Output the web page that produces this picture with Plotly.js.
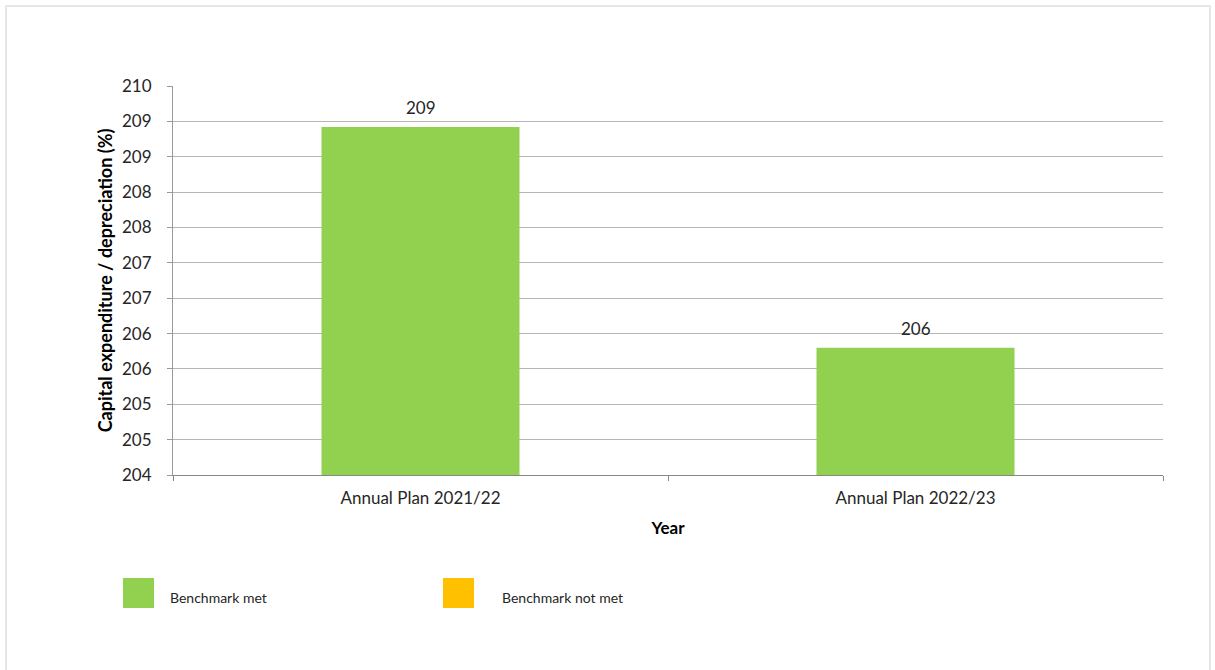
<!DOCTYPE html>
<html>
<head>
<meta charset="utf-8">
<script src="https://cdn.plot.ly/plotly-3.0.1.min.js"></script>
<style>
  html, body { margin: 0; padding: 0; background: #fff; }
  #wrap { position: relative; width: 1215px; height: 670px; overflow: hidden; }
  #frame { position: absolute; left: 5px; top: 5px; width: 1206px; height: 700px; border: 2px solid #e6e6e6; box-sizing: border-box; pointer-events: none; z-index: 5; }
  #chart { position: absolute; left: 0; top: 0; width: 1215px; height: 670px; }
</style>
</head>
<body>
<div id="wrap">
  <div id="chart"></div>
  <div id="frame"></div>
</div>
<script>
// ---- data ----
const categories = ["Annual Plan 2021/22", "Annual Plan 2022/23"];
const ratioValues = [208.92, 205.80];
const barColors = ["#92D050", "#92D050"];
const yTickValues = [204, 204.5, 205, 205.5, 206, 206.5, 207, 207.5, 208, 208.5, 209, 209.5];
const yTickLabels = ["204", "205", "205", "206", "206", "207", "207", "208", "208", "209", "209", "210"];
const legendLabels = ["Benchmark met", "Benchmark not met"];
const legendColors = ["#92D050", "#FFC000"];

const FONT = "Lato, 'Open Sans', sans-serif";
const W = 1215, H = 670;
const L = 173, R = 52, T = 86, B = 195;
const pw = W - L - R, ph = H - T - B;
const px = v => (v - L) / pw;
const py = v => (H - B - v) / ph;

const trace = {
  type: "bar",
  x: categories,
  y: ratioValues,
  marker: { color: barColors },
  hoverinfo: "x+y",
  showlegend: false
};

const shapes = [];
const annotations = [];

// value labels above bars
categories.forEach((c, i) => {
  annotations.push({
    xref: "x", yref: "y", x: c, y: ratioValues[i],
    text: Math.round(ratioValues[i]).toString(),
    showarrow: false, xanchor: "center", yanchor: "bottom", yshift: 7,
    font: { family: FONT, size: 17, color: "#262626" }
  });
});

// custom legend (squares + labels)
const legendX = [123, 443];
const legendTextX = [168, 500];
legendLabels.forEach((lab, i) => {
  shapes.push({
    type: "rect", xref: "paper", yref: "paper",
    x0: px(legendX[i]), x1: px(legendX[i] + 31),
    y0: py(578), y1: py(608),
    fillcolor: legendColors[i], line: { width: 0 }
  });
  annotations.push({
    xref: "paper", yref: "paper",
    x: px(legendTextX[i]), y: py(597),
    xanchor: "left", yanchor: "middle",
    text: lab, showarrow: false,
    font: { family: FONT, size: 14, color: "#262626" }
  });
});

const layout = {
  width: W, height: H,
  margin: { l: L, r: R, t: T, b: B },
  paper_bgcolor: "#ffffff",
  plot_bgcolor: "#ffffff",
  font: { family: FONT, size: 17, color: "#262626" },
  bargap: 0.6,
  xaxis: {
    type: "category",
    tickson: "boundaries",
    ticks: "outside", ticklen: 5, tickcolor: "#888888", tickwidth: 1,
    showline: true, linecolor: "#888888", linewidth: 1,
    showgrid: false,
    tickfont: { family: FONT, size: 17, color: "#262626" },
    ticklabelstandoff: 8,
    title: { text: "<b>Year</b>", font: { family: FONT, size: 17, color: "#000000" }, standoff: 14 }
  },
  yaxis: {
    range: [204, 209.5],
    tickmode: "array",
    tickvals: yTickValues,
    ticktext: yTickLabels,
    ticks: "outside", ticklen: 5, tickcolor: "#999999",
    showline: true, linecolor: "#999999", linewidth: 1,
    showgrid: true, gridcolor: "#b5b5b5", gridwidth: 1,
    zeroline: false,
    tickfont: { family: FONT, size: 17, color: "#262626" },
    ticklabelstandoff: 12,
    title: { text: "<b>Capital expenditure / depreciation (%)</b>", font: { family: FONT, size: 18, color: "#000000" }, standoff: 4 }
  },
  shapes: shapes,
  annotations: annotations
};

Plotly.newPlot("chart", [trace], layout, { displayModeBar: false, staticPlot: true });
</script>
</body>
</html>
